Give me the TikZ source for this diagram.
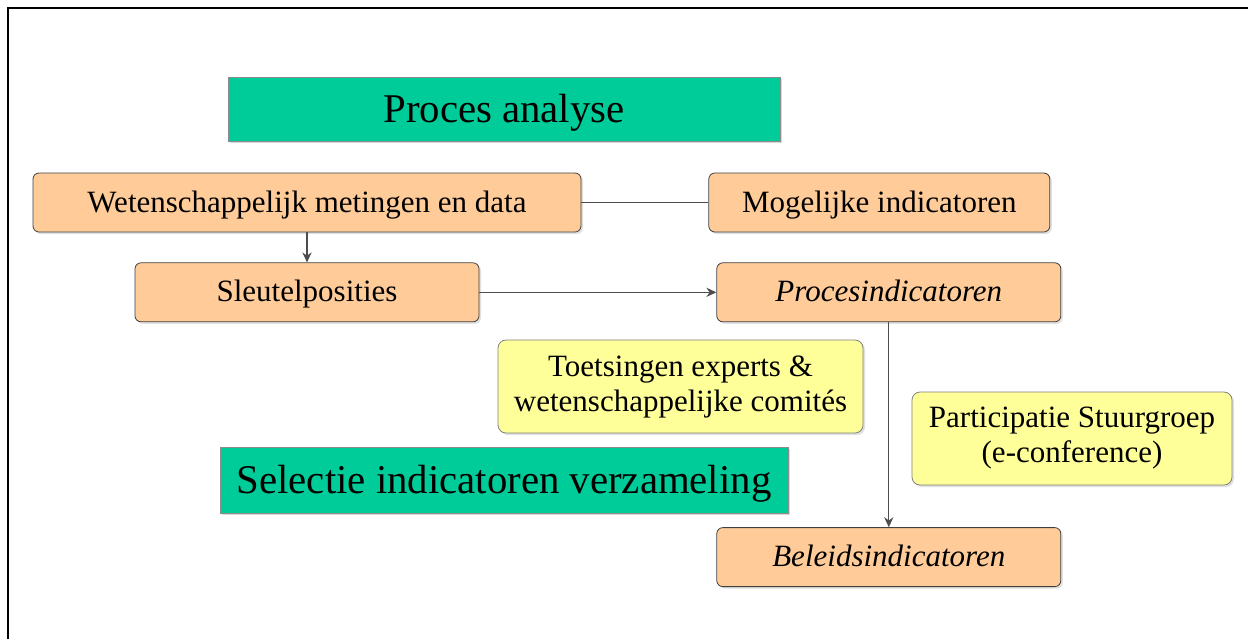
\documentclass[tikz,border=0pt]{standalone}
\usepackage{fontspec}
\setmainfont{Liberation Serif}
\usetikzlibrary{arrows.meta, positioning, shadows}
\definecolor{procgreen}{HTML}{00CC99}
\definecolor{boxpeach}{HTML}{FFCC99}
\definecolor{notegel}{HTML}{FFFF99}
\definecolor{edgegrey}{HTML}{4D4D4D}

\begin{document}
\begin{tikzpicture}[x=0.5pt, y=-0.5pt,
  font=\fontsize{15.5}{17.5}\selectfont,
  ph/.style={rectangle, draw=black!45, fill=procgreen, minimum width=276pt, minimum height=32pt,
             inner sep=0pt, text height=18.4pt, text depth=5.3pt, font=\fontsize{20.4}{22}\selectfont,
             drop shadow={shadow xshift=1.2pt, shadow yshift=-1.2pt, fill=black!30, opacity=.5}},
  ob/.style={rectangle, rounded corners=3pt, draw=black!75, fill=boxpeach, minimum width=172pt,
             minimum height=29.5pt, inner sep=0pt, text height=13.6pt, text depth=4pt,
             drop shadow={shadow xshift=1pt, shadow yshift=-1pt, fill=black!30, opacity=.4}},
  nt/.style={rectangle, rounded corners=4pt, draw=black!50, fill=notegel, align=center,
             minimum height=46.5pt, inner sep=0pt,
             drop shadow={shadow xshift=1pt, shadow yshift=-1pt, fill=black!30, opacity=.4}},
  ln/.style={edgegrey, line width=0.6pt},
  ar/.style={ln, -{Stealth[length=5pt, width=4.6pt]}}]
\useasboundingbox (0,0) rectangle (1248,639);
\draw[line width=1pt] (8,639) -- (8,8) -- (1248,8);
\node[ph] (pa) at (504,109) {Proces analyse};
\node[ob, minimum width=274pt] (wet) at (307,202.5) {Wetenschappelijk metingen en data};
\node[ob, minimum width=170.5pt, right=63.5pt of wet] (mog) {Mogelijke indicatoren};
\node[ob, below=15pt of wet] (sleut) {Sleutelposities};
\node[ob, right=118.5pt of sleut] (proc) {\textit{Procesindicatoren}};
\node[nt, minimum width=182.5pt] (toets) at (680.5,386.5) {Toetsingen experts \&\\wetenschappelijke comités};
\node[nt, minimum width=160pt] (part) at (1072,438.5) {Participatie Stuurgroep\\(e-conference)};
\node[ph, minimum width=284pt, minimum height=33pt] (sel) at (504,480) {Selectie indicatoren verzameling};
\node[ob, below=102.5pt of proc] (bel) {\textit{Beleidsindicatoren}};
\draw[ln] (wet) -- (mog);
\draw[ar] (wet) -- (sleut);
\draw[ar] (sleut) -- (proc);
\draw[ar] (proc) -- (bel);
\end{tikzpicture}
\end{document}
